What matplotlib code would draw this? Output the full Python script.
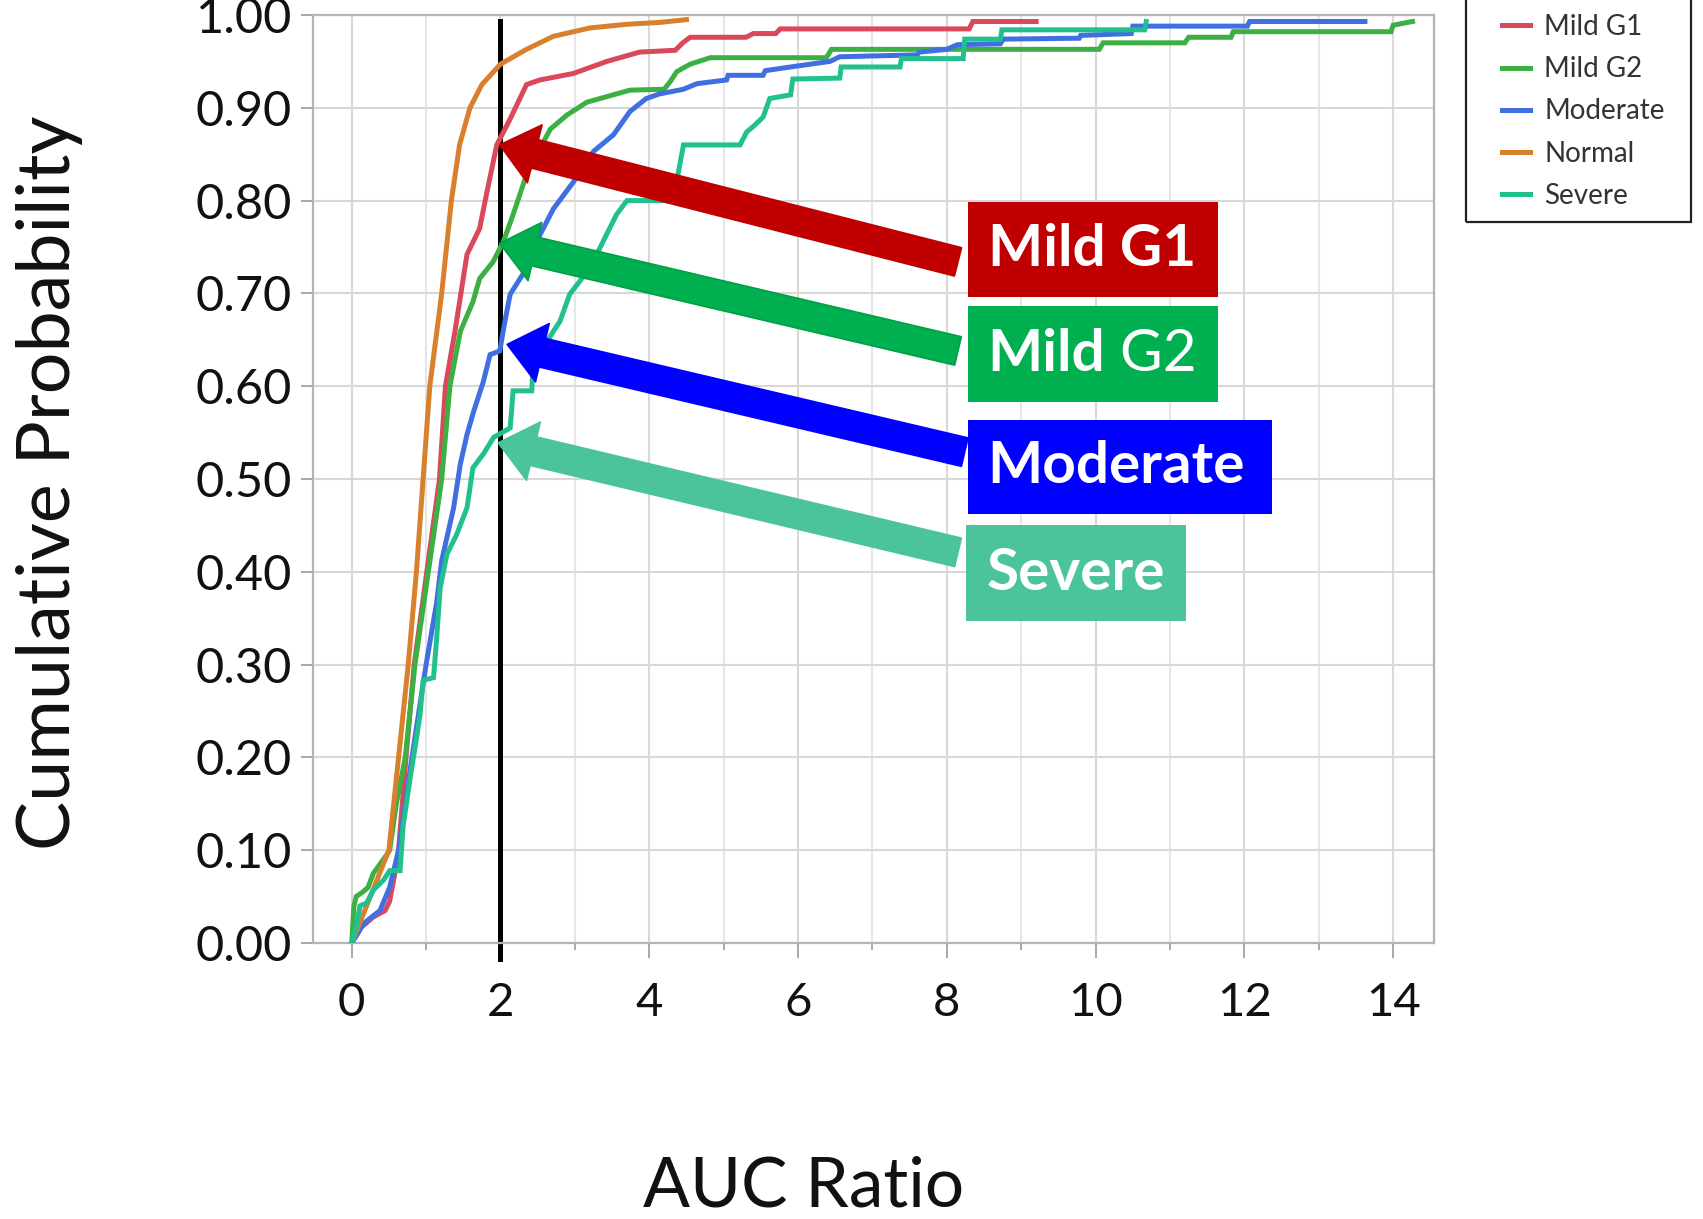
import matplotlib
matplotlib.use('Agg')
import matplotlib.pyplot as plt
import matplotlib.patches as patches
from matplotlib.ticker import MultipleLocator, FormatStrFormatter
import numpy as np

plt.rcParams['font.family'] = ['Lato', 'DejaVu Sans']

# ------------------------------------------------------------
# cumulative distribution traces (AUC ratio, cumulative prob.)
# ------------------------------------------------------------
mild_g1 = [(0.0, 0.0), (0.10, 0.015), (0.29, 0.028), (0.45, 0.035), (0.51, 0.045),
           (0.58, 0.075), (0.63, 0.10), (0.73, 0.20), (0.84, 0.30), (1.01, 0.40),
           (1.18, 0.50), (1.26, 0.60), (1.39, 0.66), (1.55, 0.742), (1.72, 0.77),
           (1.81, 0.806), (1.95, 0.86), (2.13, 0.888), (2.35, 0.925), (2.53, 0.930),
           (2.98, 0.937), (3.43, 0.950), (3.87, 0.960), (4.35, 0.962), (4.45, 0.970),
           (4.55, 0.976), (5.30, 0.976), (5.40, 0.980), (5.70, 0.980), (5.76, 0.985),
           (8.30, 0.985), (8.35, 0.993), (9.20, 0.993)]

mild_g2 = [(0.0, 0.0), (0.03, 0.04), (0.06, 0.05), (0.15, 0.055), (0.22, 0.06),
           (0.29, 0.075), (0.38, 0.085), (0.47, 0.095), (0.51, 0.10), (0.60, 0.15),
           (0.72, 0.20), (0.85, 0.30), (1.03, 0.40), (1.21, 0.50), (1.32, 0.60),
           (1.46, 0.659), (1.63, 0.691), (1.72, 0.716), (1.90, 0.734), (2.04, 0.756),
           (2.17, 0.785), (2.35, 0.828), (2.53, 0.856), (2.67, 0.877), (2.89, 0.892),
           (3.16, 0.906), (3.74, 0.919), (4.20, 0.920), (4.28, 0.928), (4.37, 0.939),
           (4.55, 0.947), (4.82, 0.954), (6.38, 0.954), (6.45, 0.963), (10.05, 0.963),
           (10.10, 0.970), (11.20, 0.970), (11.25, 0.976), (11.82, 0.976), (11.85, 0.982),
           (13.97, 0.982), (14.00, 0.989), (14.26, 0.993)]

moderate = [(0.0, 0.0), (0.08, 0.010), (0.16, 0.021), (0.30, 0.030), (0.38, 0.035),
            (0.51, 0.060), (0.57, 0.080), (0.63, 0.10), (0.81, 0.20), (1.00, 0.30),
            (1.14, 0.366), (1.21, 0.412), (1.28, 0.437), (1.37, 0.469), (1.46, 0.516),
            (1.55, 0.548), (1.64, 0.573), (1.77, 0.605), (1.86, 0.634), (1.99, 0.638),
            (2.06, 0.670), (2.13, 0.699), (2.35, 0.727), (2.53, 0.763), (2.71, 0.791),
            (2.98, 0.820), (3.25, 0.853), (3.52, 0.871), (3.74, 0.896), (3.96, 0.910),
            (4.14, 0.915), (4.46, 0.920), (4.64, 0.926), (5.04, 0.930), (5.06, 0.935),
            (5.53, 0.935), (5.56, 0.940), (5.90, 0.944), (6.43, 0.950), (6.56, 0.955),
            (7.60, 0.957), (7.63, 0.960), (8.00, 0.963), (8.14, 0.968), (8.72, 0.969),
            (8.76, 0.974), (9.78, 0.975), (9.80, 0.978), (10.48, 0.980), (10.50, 0.988),
            (12.04, 0.988), (12.07, 0.993), (13.62, 0.993)]

normal = [(0.0, 0.0), (0.15, 0.03), (0.30, 0.06), (0.45, 0.09), (0.50, 0.10),
          (0.63, 0.20), (0.76, 0.30), (0.87, 0.40), (0.96, 0.50), (1.05, 0.60),
          (1.13, 0.65), (1.21, 0.70), (1.34, 0.80), (1.45, 0.86), (1.59, 0.90),
          (1.75, 0.925), (2.00, 0.947), (2.35, 0.963), (2.71, 0.977), (3.20, 0.986),
          (3.70, 0.990), (4.14, 0.992), (4.50, 0.995)]

severe = [(0.0, 0.0), (0.07, 0.02), (0.11, 0.04), (0.20, 0.043), (0.29, 0.057),
          (0.43, 0.068), (0.51, 0.078), (0.65, 0.078), (0.69, 0.125), (0.78, 0.175),
          (0.87, 0.22), (0.92, 0.247), (0.96, 0.283), (1.10, 0.286), (1.14, 0.326),
          (1.19, 0.383), (1.28, 0.419), (1.41, 0.44), (1.55, 0.469), (1.63, 0.512),
          (1.77, 0.527), (1.91, 0.545), (2.13, 0.555), (2.17, 0.595), (2.42, 0.595),
          (2.44, 0.624), (2.71, 0.659), (2.80, 0.670), (2.93, 0.699), (3.20, 0.727),
          (3.38, 0.756), (3.56, 0.785), (3.70, 0.800), (4.32, 0.800), (4.46, 0.860),
          (5.22, 0.860), (5.31, 0.874), (5.40, 0.880), (5.53, 0.890), (5.62, 0.910),
          (5.90, 0.914), (5.93, 0.931), (6.56, 0.932), (6.58, 0.944), (7.37, 0.944),
          (7.39, 0.953), (8.22, 0.953), (8.24, 0.974), (8.72, 0.974), (8.74, 0.984),
          (10.66, 0.984), (10.68, 0.993)]

groups = ['Mild G1', 'Mild G2', 'Moderate', 'Normal', 'Severe']
traces = [mild_g1, mild_g2, moderate, normal, severe]
line_colors = ['#D9485B', '#3CB043', '#3F6FE0', '#D8802B', '#22C08F']

threshold = 2.0

# callouts: arrow from box to where each curve crosses the threshold
callout_bold = ['Mild G1', 'Mild', 'Moderate', 'Severe']
callout_regular = ['', ' G2', '', '']
callout_colors = ['#C00000', '#00B050', '#0000FF', '#4BC49A']
callout_edges = ['#C00000', '#00A044', '#0000FF', '#4BC49A']
tip_x = [1.99, 1.99, 2.09, 1.97]
tip_y = [0.860, 0.754, 0.645, 0.539]
tail_x = [8.15, 8.15, 8.24, 8.15]
tail_y = [0.734, 0.638, 0.529, 0.421]
box_x0 = [8.28, 8.28, 8.28, 8.26]
box_x1 = [11.64, 11.64, 12.37, 11.21]
box_y0 = [0.696, 0.583, 0.462, 0.347]
box_y1 = [0.799, 0.686, 0.564, 0.450]

fig = plt.figure(figsize=(17.03, 12.19), dpi=100)
ax = fig.add_axes([0.1838, 0.2264, 0.6583, 0.7613])
ax.set_xlim(-0.52, 14.55)
ax.set_ylim(0, 1.0)

# grid + frame, JMP-ish
ax.xaxis.set_major_locator(MultipleLocator(2))
ax.xaxis.set_minor_locator(MultipleLocator(1))
ax.yaxis.set_major_locator(MultipleLocator(0.1))
ax.yaxis.set_major_formatter(FormatStrFormatter('%.2f'))
ax.grid(which='major', color='#D8D8D8', lw=1.5, zorder=0)
ax.grid(which='minor', axis='x', color='#E6E6E6', lw=1.5, zorder=0)
ax.set_axisbelow(True)
for sp in ax.spines.values():
    sp.set_color('#B4B4B4')
    sp.set_linewidth(1.6)
ax.tick_params(axis='x', which='major', length=11, width=1.4, color='#A8A8A8',
               pad=17, labelsize=34, labelcolor='#111111')
ax.tick_params(axis='x', which='minor', length=5, width=1.4, color='#A8A8A8')
ax.tick_params(axis='y', which='major', length=9, width=1.4, color='#A8A8A8',
               pad=6, labelsize=35, labelcolor='#111111')

# threshold line
ax.axvline(threshold, ymin=-0.017, ymax=0.993, color='black', lw=3.6,
           clip_on=False, zorder=2)

# curves
for name, pts, col in zip(groups, traces, line_colors):
    xy = np.array(pts)
    ax.plot(xy[:, 0], xy[:, 1], color=col, lw=3.6, label=name, zorder=3,
            solid_joinstyle='miter')

# arrows + labelled boxes
for i in range(len(callout_bold)):
    arr = patches.FancyArrowPatch(
        (tail_x[i], tail_y[i]), (tip_x[i], tip_y[i]),
        arrowstyle='simple,head_length=26,head_width=43,tail_width=21',
        mutation_scale=1, shrinkA=0, shrinkB=0,
        facecolor=callout_colors[i], edgecolor=callout_edges[i], lw=1.2, zorder=4)
    ax.add_patch(arr)
    box = patches.Rectangle((box_x0[i], box_y0[i]), box_x1[i] - box_x0[i],
                            box_y1[i] - box_y0[i], facecolor=callout_colors[i],
                            edgecolor='none', zorder=5)
    ax.add_patch(box)
    ty = (box_y0[i] + box_y1[i]) / 2
    t = ax.text(box_x0[i] + 0.27, ty, callout_bold[i], color='white', fontsize=42,
                fontweight='bold', ha='left', va='center', zorder=6)
    if callout_regular[i]:
        ax.annotate(callout_regular[i], xy=(1, 0), xycoords=t, color='white',
                    fontsize=42, ha='left', va='bottom', zorder=6)

fig.text(0.472, 0.026, 'AUC Ratio', fontsize=50, ha='center', va='center',
         color='#111111')
fig.text(0.029, 0.604, 'Cumulative Probability', fontsize=53, rotation=90,
         ha='center', va='center', color='#111111')

# legend entries without frame; the box is drawn separately (top runs off the page)
leg = fig.legend(loc='upper left', bbox_to_anchor=(0.861, 1.018), fontsize=20,
                 frameon=False, handlelength=1.0, handletextpad=0.5,
                 labelspacing=0.58, borderpad=1.3, borderaxespad=0)
for txt in leg.get_texts():
    txt.set_color('#333333')
fig.patches.append(patches.Rectangle((0.8608, 0.8175), 0.1322, 0.2,
                                     transform=fig.transFigure, fill=False,
                                     edgecolor='#222222', lw=1.6))

fig.savefig('out.png', dpi=100)
